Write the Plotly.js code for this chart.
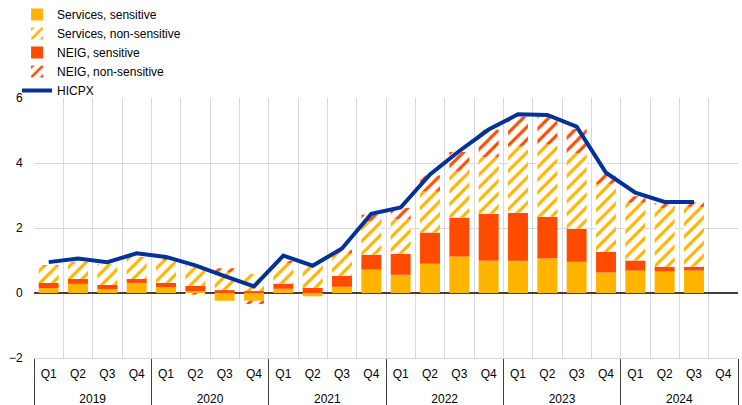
<!DOCTYPE html>
<html>
<head>
<meta charset="utf-8">
<script src="https://cdn.plot.ly/plotly-3.0.1.min.js"></script>
<style>html,body{margin:0;padding:0;background:#fff;}#chart{width:742px;height:405px;}</style>
</head>
<body>
<div id="chart"></div>
<script>
const years = ["2019","2019","2019","2019","2020","2020","2020","2020","2021","2021","2021","2021","2022","2022","2022","2022","2023","2023","2023","2023","2024","2024","2024","2024"];
const quarters = ["Q1","Q2","Q3","Q4","Q1","Q2","Q3","Q4","Q1","Q2","Q3","Q4","Q1","Q2","Q3","Q4","Q1","Q2","Q3","Q4","Q1","Q2","Q3","Q4"];
const servicesSensitive = [0.15,0.28,0.12,0.31,0.18,0.06,-0.24,-0.24,0.13,-0.10,0.19,0.72,0.56,0.90,1.12,0.99,0.99,1.06,0.96,0.63,0.69,0.66,0.69,null];
const neigSensitive = [0.16,0.15,0.13,0.12,0.13,0.16,0.09,0.06,0.16,0.16,0.34,0.46,0.65,0.96,1.20,1.45,1.48,1.29,1.02,0.64,0.31,0.15,0.12,null];
const servicesNonSensitive = [0.53,0.51,0.64,0.65,0.70,0.64,0.55,0.52,0.62,0.65,0.68,1.03,1.06,1.26,1.42,1.74,2.05,2.22,2.32,2.09,1.78,1.81,1.84,null];
const neigNonSensitive = [0.02,0.02,0.00,0.02,0.06,-0.05,0.12,-0.10,0.08,0.03,0.12,0.20,0.35,0.50,0.60,0.85,0.90,0.85,0.75,0.30,0.20,0.15,0.15,null];
const hicpx = [0.95,1.06,0.95,1.22,1.11,0.85,0.52,0.20,1.15,0.84,1.37,2.44,2.63,3.65,4.37,5.03,5.50,5.48,5.12,3.70,3.09,2.80,2.80,null];

const yellow = "#FFB400";
const orange = "#FF4B00";
const blue = "#003299";
// quarter labels get a tiny blank second line so the year row sits lower, as in the original
const quarterLabels = quarters.map(q => q + "<br><span style='font-size:4px'>&nbsp;</span>");
const x = [years, quarterLabels];

const traces = [
  {type:"bar", name:"Services, sensitive", x:x, y:servicesSensitive, legendrank:1,
   marker:{color:yellow, line:{width:0}}},
  {type:"bar", name:"NEIG, sensitive", x:x, y:neigSensitive, legendrank:3,
   marker:{color:orange, line:{width:0}}},
  {type:"bar", name:"Services, non-sensitive", x:x, y:servicesNonSensitive, legendrank:2,
   marker:{color:"#ffffff", line:{width:0}, pattern:{shape:"/", fgcolor:yellow, bgcolor:"#ffffff", size:9, solidity:0.35}}},
  {type:"bar", name:"NEIG, non-sensitive", x:x, y:neigNonSensitive, legendrank:4,
   marker:{color:"#ffffff", line:{width:0}, pattern:{shape:"/", fgcolor:orange, bgcolor:"#ffffff", size:9, solidity:0.35}}},
  {type:"scatter", mode:"lines", name:"HICPX", x:x, y:hicpx, legendrank:5,
   line:{color:blue, width:4}}
];

const layout = {
  width:742, height:405,
  margin:{l:34, r:4, t:98, b:47, autoexpand:false},
  paper_bgcolor:"#fff", plot_bgcolor:"#fff",
  font:{family:"Liberation Sans, Arial, sans-serif", size:12, color:"#000"},
  barmode:"relative", bargap:0.32,
  showlegend:true,
  legend:{xref:"container", yref:"container", x:0.023, xanchor:"left", y:1.015, yanchor:"top", tracegroupgap:0,
    font:{size:12}, bgcolor:"rgba(0,0,0,0)", itemwidth:30},
  xaxis:{type:"multicategory", tickson:"boundaries", showgrid:true, gridcolor:"#d9d9d9", gridwidth:1,
    showline:true, linecolor:"#d9d9d9", ticks:"", showdividers:true, dividercolor:"#404040", dividerwidth:1,
    ticklabelstandoff:5, tickfont:{size:12}},
  yaxis:{range:[-2,6], dtick:2, showgrid:true, gridcolor:"#d9d9d9", gridwidth:1,
    zeroline:true, zerolinecolor:"#404040", zerolinewidth:1.5, showline:false,
    ticks:"outside", ticklen:8, tickcolor:"rgba(0,0,0,0)", tickfont:{size:12}}
};

Plotly.newPlot("chart", traces, layout, {displayModeBar:false, staticPlot:true});
</script>
</body>
</html>
